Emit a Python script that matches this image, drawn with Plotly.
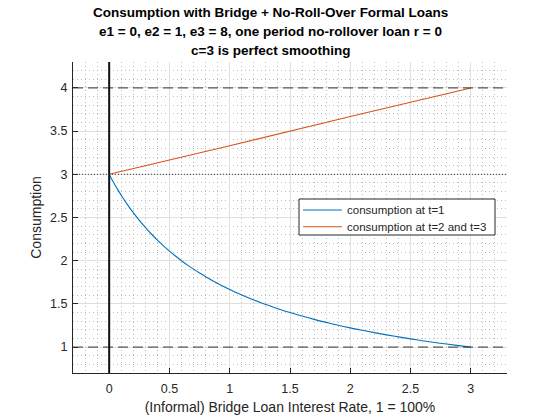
import plotly.graph_objects as go

# ============================
# Dados
# ============================
taxa_t1 = [0, 0.01, 0.025, 0.05, 0.075, 0.1, 0.15, 0.2, 0.25, 0.3, 0.35, 0.4, 0.45, 0.5,
           0.55, 0.6, 0.65, 0.7, 0.75, 0.8, 0.9, 1.0, 1.1, 1.2, 1.3, 1.4, 1.5, 1.6, 1.7,
           1.8, 1.9, 2.0, 2.1, 2.2, 2.3, 2.4, 2.5, 2.6, 2.7, 2.8, 2.9, 3.0]
consumo_t1 = [3.0, 2.974, 2.935, 2.873, 2.814, 2.758, 2.652, 2.556, 2.467, 2.385, 2.309,
              2.238, 2.172, 2.111, 2.054, 2.0, 1.949, 1.902, 1.857, 1.815, 1.737, 1.667,
              1.603, 1.545, 1.493, 1.444, 1.4, 1.359, 1.321, 1.286, 1.253, 1.222, 1.194,
              1.167, 1.141, 1.118, 1.095, 1.074, 1.054, 1.035, 1.017, 1.0]

taxa_t23 = [0, 1, 2, 3]
consumo_t23 = [3.0, 3.33, 3.67, 4.0]

linhas_tracejadas = [4, 1]
linha_pontilhada = 3

titulo = ["Consumption with Bridge + No-Roll-Over Formal Loans",
          "e1 = 0, e2 = 1, e3 = 8, one period no-rollover loan r = 0",
          "c=3 is perfect smoothing"]
nomes = ["consumption at t=1", "consumption at t=2 and t=3"]

AZUL = "#0072BD"
LARANJA = "#D95319"
TEXTO = "#262626"
FONTE = "Liberation Sans, Arial, sans-serif"

# área do gráfico em pixels (figura 560x420)
ESQ, DIR, TOPO, BASE = 73, 507, 62, 373
LARG, ALT = DIR - ESQ, BASE - TOPO


def px_x(p):
    return (p - ESQ) / LARG


def px_y(p):
    return (BASE - p) / ALT


fig = go.Figure()

fig.add_trace(go.Scatter(x=taxa_t1, y=consumo_t1, mode="lines", line_shape="spline",
                         line=dict(color=AZUL, width=1.1), name=nomes[0], showlegend=False))
fig.add_trace(go.Scatter(x=taxa_t23, y=consumo_t23, mode="lines",
                         line=dict(color=LARANJA, width=1.1), name=nomes[1], showlegend=False))

# Linhas de referência
for yv in linhas_tracejadas:
    fig.add_shape(type="line", xref="paper", x0=0, x1=1, y0=yv, y1=yv,
                  line=dict(color="#333333", width=1, dash="10px,5px"))
fig.add_shape(type="line", xref="paper", x0=0, x1=1, y0=linha_pontilhada, y1=linha_pontilhada,
              line=dict(color="#333333", width=1, dash="1px,2px"))
fig.add_shape(type="line", yref="paper", x0=0, x1=0, y0=0, y1=1,
              line=dict(color="#111111", width=2))

# Legenda desenhada à mão (caixa compacta como no original)
fig.add_shape(type="rect", xref="paper", yref="paper",
              x0=px_x(299), x1=px_x(495), y0=px_y(235), y1=px_y(199),
              line=dict(color=TEXTO, width=1), fillcolor="white", layer="above")
for i, (nome, cor) in enumerate(zip(nomes, [AZUL, LARANJA])):
    yy = px_y(210 + i * 16.7)
    fig.add_shape(type="line", xref="paper", yref="paper",
                  x0=px_x(303), x1=px_x(342), y0=yy, y1=yy,
                  line=dict(color=cor, width=1.1), layer="above")
    fig.add_annotation(text=nome, xref="paper", yref="paper", x=px_x(345), y=yy,
                       xanchor="left", yanchor="middle", showarrow=False,
                       font=dict(size=11.5, color=TEXTO, family=FONTE))

# Título em três linhas
for i, linha in enumerate(titulo):
    fig.add_annotation(text="<b>" + linha + "</b>", xref="paper", yref="paper",
                       x=px_x(270), y=px_y(12 + i * 19.5), xanchor="center", yanchor="middle",
                       showarrow=False, font=dict(size=13.5, color="black", family=FONTE))

eixo = dict(showline=True, linecolor=TEXTO, linewidth=1, mirror=False, automargin=False,
            ticks="inside", ticklen=5, tickcolor=TEXTO,
            tickfont=dict(size=12.5, color=TEXTO, family=FONTE),
            showgrid=True, gridcolor="#e0e0e0", gridwidth=1, zeroline=False,
            minor=dict(showgrid=True, gridcolor="#bdbdbd", griddash="1px,3px", gridwidth=1, dtick=0.1))

fig.update_xaxes(eixo, range=[-0.3, 3.3], dtick=0.5, tick0=0, ticklabelstandoff=4,
                 title=dict(text="(Informal) Bridge Loan Interest Rate, 1 = 100%",
                            font=dict(size=14, color=TEXTO, family=FONTE), standoff=7))
fig.update_yaxes(eixo, range=[0.7, 4.3], dtick=0.5, tick0=0, ticklabelstandoff=2,
                 title=dict(text="Consumption", font=dict(size=14, color=TEXTO, family=FONTE), standoff=5))

fig.update_layout(
    width=560, height=420,
    margin=dict(l=ESQ, r=560 - DIR, t=TOPO, b=420 - BASE),
    paper_bgcolor="white", plot_bgcolor="white",
    font=dict(family=FONTE, color=TEXTO),
    showlegend=False,
)

# tira a margem padrão do <body> para a figura começar no canto
fig.write_html("out.html", config={"displayModeBar": False},
               post_script="document.body.style.margin='0';")
